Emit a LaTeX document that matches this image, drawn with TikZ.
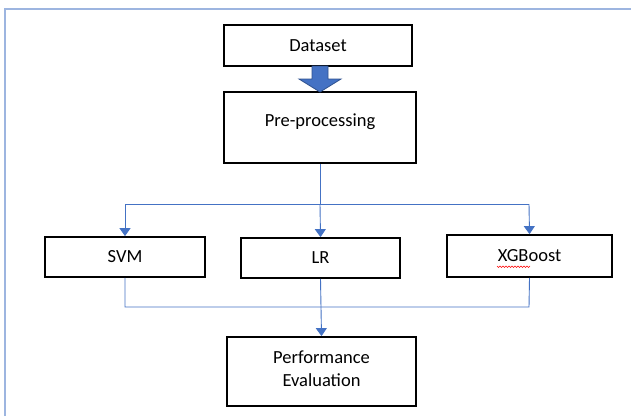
\documentclass[tikz,border=0pt]{standalone}
\usepackage{fontspec}
\setmainfont{Carlito}
\usetikzlibrary{arrows.meta}
\definecolor{frameblue}{HTML}{9DB5E0}
\definecolor{flowblue}{HTML}{4472C4}
\definecolor{darkblue}{HTML}{2F528F}
\begin{document}
\begin{tikzpicture}[x=1pt,y=-1pt,
  box/.style={draw=black,line width=1.8pt,inner sep=0pt,font=\fontsize{18.5}{23}\selectfont,align=center},
  label/.style={inner sep=0pt,font=\fontsize{18.5}{23}\selectfont},
  flow/.style={draw=flowblue,line width=0.9pt},
  flowarrow/.style={flow,-{Triangle[length=8pt,width=11pt]}}]
\useasboundingbox (0,0) rectangle (631,416);
\fill[white] (0,0) rectangle (631,416);
% page frame
\draw[frameblue,line width=1.4pt] (5,416) -- (5,9) -- (631,9);
% boxes
\node[box,minimum width=188pt,minimum height=41pt] (data) at (318,45.5) {Dataset};
\node[box,minimum width=192pt,minimum height=71pt] (pre) at (320,127.5) {};
\node[label] (pretext) at (320,122) {Pre-processing};
\node[box,minimum width=160pt,minimum height=40pt] (svm) at (125,257) {SVM};
\node[box,minimum width=159pt,minimum height=40pt] (lr) at (320.5,258) {LR};
\node[box,minimum width=165pt,minimum height=42pt] (xgb) at (529.5,256) {XGBoost};
\node[box,minimum width=189pt,minimum height=69pt] (perf) at (321.5,371.5) {};
\node[label] (perfa) at (321.5,357) {Performance};
\node[label] (perfb) at (321.5,380) {Evaluation};
% red squiggle under XGBoost
\draw[red,line width=0.6pt] (497,266) \foreach \i in {0,...,21} {-- ++(1.5,{(-1)^\i*1.5})};
% block arrow between dataset and pre-processing
\draw[fill=flowblue,draw=darkblue,line width=0.8pt]
  (312,66) -- (328,66) -- (328,79) -- (341,79) -- (320,92) -- (299,79) -- (312,79) -- cycle;
% branching connectors
\coordinate (split) at (320,204);
\draw[flow] (pre.south) -- (split);
\draw[flow] (125,204) -- (529,204);
\draw[flowarrow] (125,204) -- (svm.north);
\draw[flowarrow] (split) -- (lr.north);
\draw[flowarrow] (529,204) -- (xgb.north);
% merging connectors
\draw[flow] (svm.south) -- (125,307) -- (529,307) -- (xgb.south);
\draw[flowarrow] (lr.south) -- (perf.north);
\end{tikzpicture}
\end{document}
